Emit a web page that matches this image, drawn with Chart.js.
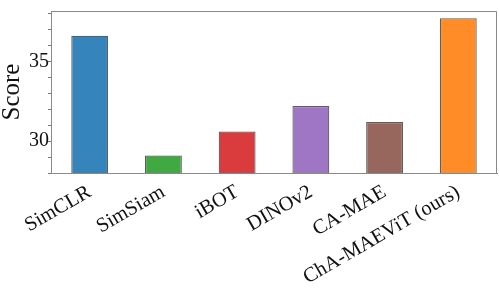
<!DOCTYPE html>
<html>
	<head>
	<meta charset="utf-8">
	<title>Score chart</title>
		<script src="https://cdn.jsdelivr.net/npm/chart.js@4.4.1/dist/chart.umd.min.js"></script>
		<style>
			body { margin: 0; background: #fff; }
		</style>
	</head>
	<body>
		<canvas id="myChart" width="499" height="304"></canvas>

		<script>
			// values
			let methods = ['SimCLR', 'SimSiam', 'iBOT', 'DINOv2', 'CA-MAE', 'ChA-MAEViT (ours)'];
			let scores = [36.6, 29.1, 30.6, 32.2, 31.2, 37.7];
			let yTickLabels = [30, 35];
			let barColors = [
				'rgba(31, 119, 180, 0.9)',
				'rgba(44, 160, 44, 0.9)',
				'rgba(214, 39, 40, 0.9)',
				'rgba(148, 103, 189, 0.9)',
				'rgba(140, 86, 75, 0.9)',
				'rgba(255, 127, 14, 0.9)'
			];

			let points = [];
			for(let i = 0; i < methods.length; i++){
				points.push({x: i, y: scores[i]});
			}

			const serif = "'Liberation Serif', 'DejaVu Serif', serif";

			// top + right spines
			const frame = {
				id: 'frame',
				afterDraw(chart) {
					const a = chart.chartArea;
					const c = chart.ctx;
					c.save();
					c.strokeStyle = '#8a8a8a';
					c.lineWidth = 1;
					c.beginPath();
					c.moveTo(a.left, a.top + 0.5);
					c.lineTo(a.right - 0.5, a.top + 0.5);
					c.lineTo(a.right - 0.5, a.bottom);
					c.stroke();
					c.restore();
				}
			};

			let ctx = document.getElementById('myChart').getContext('2d');
			let myChart = new Chart(ctx, {
				type: 'bar',
				data: {
					datasets: [{
						data: points,
						backgroundColor: barColors,
						borderColor: 'rgba(40, 40, 40, 0.75)',
						borderWidth: 1.2,
						borderSkipped: false,
						categoryPercentage: 1,
						barPercentage: 0.5
					}]
				},
				plugins: [frame],
				options: {
					responsive: false,
					animation: false,
					layout: { padding: { top: 2, right: 2, left: 0, bottom: 0 } },
					plugins: {
						legend: { display: false },
						tooltip: { enabled: false }
					},
					scales: {
						x: {
							type: 'linear',
							min: -0.525,
							max: 5.525,
							offset: false,
							afterFit: function(scale) {
								scale.height = 131;
								scale.paddingLeft = 0;
								scale.paddingRight = 0;
							},
							grid: { display: true, offset: false, drawOnChartArea: false, drawTicks: false },
							border: { display: true, color: '#8a8a8a', width: 1 },
							ticks: {
								stepSize: 1,
								includeBounds: false,
								autoSkip: false,
								minRotation: 30,
								maxRotation: 30,
								padding: 7,
								color: '#111',
								font: { family: serif, size: 20.5 },
								callback: function(v) {
									return Number.isInteger(v) ? methods[v] : '';
								}
							}
						},
						y: {
							min: 28,
							max: 38.15,
							afterFit: function(scale) { scale.width = 51; },
							grid: { drawOnChartArea: false, tickLength: 3, color: '#777' },
							border: { display: true, color: '#8a8a8a', width: 1 },
							title: {
								display: true,
								text: 'Score',
								color: '#111',
								padding: 0,
								font: { family: serif, size: 25, lineHeight: 1 }
							},
							ticks: {
								stepSize: 1,
								includeBounds: false,
								autoSkip: false,
								padding: -1,
								color: '#111',
								font: { family: serif, size: 20 },
								callback: function(v) {
									const r = Math.round(v);
									return (Math.abs(v - r) < 1e-6 && yTickLabels.includes(r)) ? String(r) : '';
								}
							}
						}
					}
				}
			});
		</script>
	</body>
</html>
